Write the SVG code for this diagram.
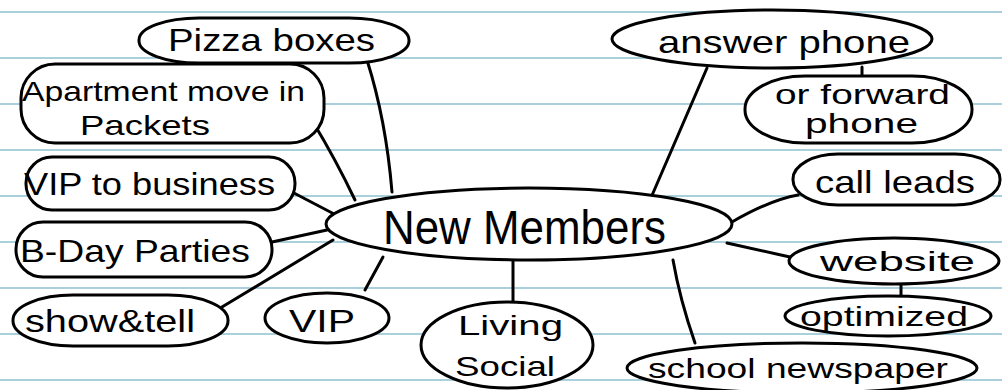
<svg xmlns="http://www.w3.org/2000/svg" width="1002" height="390" viewBox="0 0 1002 390">
  <defs>
    <style>
      .rule { stroke: #a9d0dc; stroke-width: 2; }
      .shape { fill: #ffffff; stroke: #000000; stroke-width: 3; }
      .link { fill: none; stroke: #000000; stroke-width: 3; stroke-linecap: round; }
      .label { font-family: "Liberation Sans", "DejaVu Sans", sans-serif; fill: #000000; font-size: 32px; }
      .small { font-size: 28px; }
      .big { font-size: 48px; }
    </style>
  </defs>

  <!-- notebook paper -->
  <rect x="0" y="0" width="1002" height="390" fill="#ffffff"/>
  <g id="ruling">
    <line class="rule" x1="0" y1="12" x2="1002" y2="12"/>
    <line class="rule" x1="0" y1="58" x2="1002" y2="58"/>
    <line class="rule" x1="0" y1="104" x2="1002" y2="104"/>
    <line class="rule" x1="0" y1="150" x2="1002" y2="150"/>
    <line class="rule" x1="0" y1="196" x2="1002" y2="196"/>
    <line class="rule" x1="0" y1="242" x2="1002" y2="242"/>
    <line class="rule" x1="0" y1="288" x2="1002" y2="288"/>
    <line class="rule" x1="0" y1="334" x2="1002" y2="334"/>
    <line class="rule" x1="0" y1="380" x2="1002" y2="380"/>
  </g>

  <!-- connectors -->
  <g id="connectors">
    <path class="link" d="M367,60 Q386,120 392,192"/>
    <path class="link" d="M313,122 Q336,160 355,200"/>
    <path class="link" d="M292,192 L336,215"/>
    <path class="link" d="M272,242 Q300,236 327,230"/>
    <path class="link" d="M217,310 L333,240"/>
    <path class="link" d="M365,290 L383,257"/>
    <path class="link" d="M513,260 L513,305"/>
    <path class="link" d="M673,260 Q680,300 695,343"/>
    <path class="link" d="M727,243 L790,257"/>
    <path class="link" d="M732,222 Q770,200 798,195"/>
    <path class="link" d="M707,68 L650,200"/>
    <path class="link" d="M862,67 L862,77"/>
    <path class="link" d="M901,283 L901,303"/>
  </g>

  <g id="node-new-members">
    <ellipse class="shape" cx="529" cy="224" rx="203" ry="36"/>
    <text class="label big" x="383" y="244" textLength="283" lengthAdjust="spacingAndGlyphs">New Members</text>
  </g>

  <g id="node-pizza-boxes">
    <rect class="shape" x="139" y="18" width="270" height="45" rx="60" ry="22"/>
    <text class="label" x="168" y="51" textLength="207" lengthAdjust="spacingAndGlyphs">Pizza boxes</text>
  </g>

  <g id="node-apartment-packets">
    <rect class="shape" x="21" y="64" width="303" height="79" rx="34" ry="34"/>
    <text class="label small" x="22" y="101" textLength="283" lengthAdjust="spacingAndGlyphs">Apartment move in</text>
    <text class="label small" x="80" y="135" textLength="130" lengthAdjust="spacingAndGlyphs">Packets</text>
  </g>

  <g id="node-vip-business">
    <rect class="shape" x="26" y="157" width="269" height="53" rx="26" ry="26"/>
    <text class="label" x="24" y="195" textLength="251" lengthAdjust="spacingAndGlyphs">VIP to business</text>
  </g>

  <g id="node-bday-parties">
    <rect class="shape" x="16" y="222" width="256" height="55" rx="27" ry="27"/>
    <text class="label" x="20" y="262" textLength="230" lengthAdjust="spacingAndGlyphs">B-Day Parties</text>
  </g>

  <g id="node-show-tell">
    <rect class="shape" x="13" y="295" width="215" height="51" rx="60" ry="25"/>
    <text class="label" x="25" y="332" textLength="170" lengthAdjust="spacingAndGlyphs">show&amp;tell</text>
  </g>

  <g id="node-vip">
    <ellipse class="shape" cx="327" cy="318" rx="62" ry="25"/>
    <text class="label" x="289" y="332" textLength="66" lengthAdjust="spacingAndGlyphs">VIP</text>
  </g>

  <g id="node-living-social">
    <ellipse class="shape" cx="507" cy="345" rx="86" ry="43"/>
    <text class="label small" x="458" y="335" textLength="105" lengthAdjust="spacingAndGlyphs">Living</text>
    <text class="label small" x="455" y="376" textLength="100" lengthAdjust="spacingAndGlyphs">Social</text>
  </g>

  <g id="node-answer-phone">
    <ellipse class="shape" cx="772" cy="39" rx="160" ry="29"/>
    <text class="label" x="658" y="53" textLength="252" lengthAdjust="spacingAndGlyphs">answer phone</text>
  </g>

  <g id="node-forward-phone">
    <rect class="shape" x="745" y="76" width="227" height="67" rx="60" ry="33"/>
    <text class="label small" x="775" y="104" textLength="175" lengthAdjust="spacingAndGlyphs">or forward</text>
    <text class="label small" x="805" y="133" textLength="113" lengthAdjust="spacingAndGlyphs">phone</text>
  </g>

  <g id="node-call-leads">
    <rect class="shape" x="793" y="154" width="207" height="51" rx="45" ry="25"/>
    <text class="label" x="815" y="193" textLength="160" lengthAdjust="spacingAndGlyphs">call leads</text>
  </g>

  <g id="node-website">
    <ellipse class="shape" cx="894" cy="261" rx="105" ry="23"/>
    <text class="label small" x="820" y="271" textLength="155" lengthAdjust="spacingAndGlyphs">website</text>
  </g>

  <g id="node-optimized">
    <ellipse class="shape" cx="888" cy="316" rx="103" ry="20"/>
    <text class="label small" x="800" y="326" textLength="168" lengthAdjust="spacingAndGlyphs">optimized</text>
  </g>

  <g id="node-school-newspaper">
    <ellipse class="shape" cx="802" cy="368" rx="175" ry="25"/>
    <text class="label small" x="648" y="378" textLength="300" lengthAdjust="spacingAndGlyphs">school newspaper</text>
  </g>
</svg>
